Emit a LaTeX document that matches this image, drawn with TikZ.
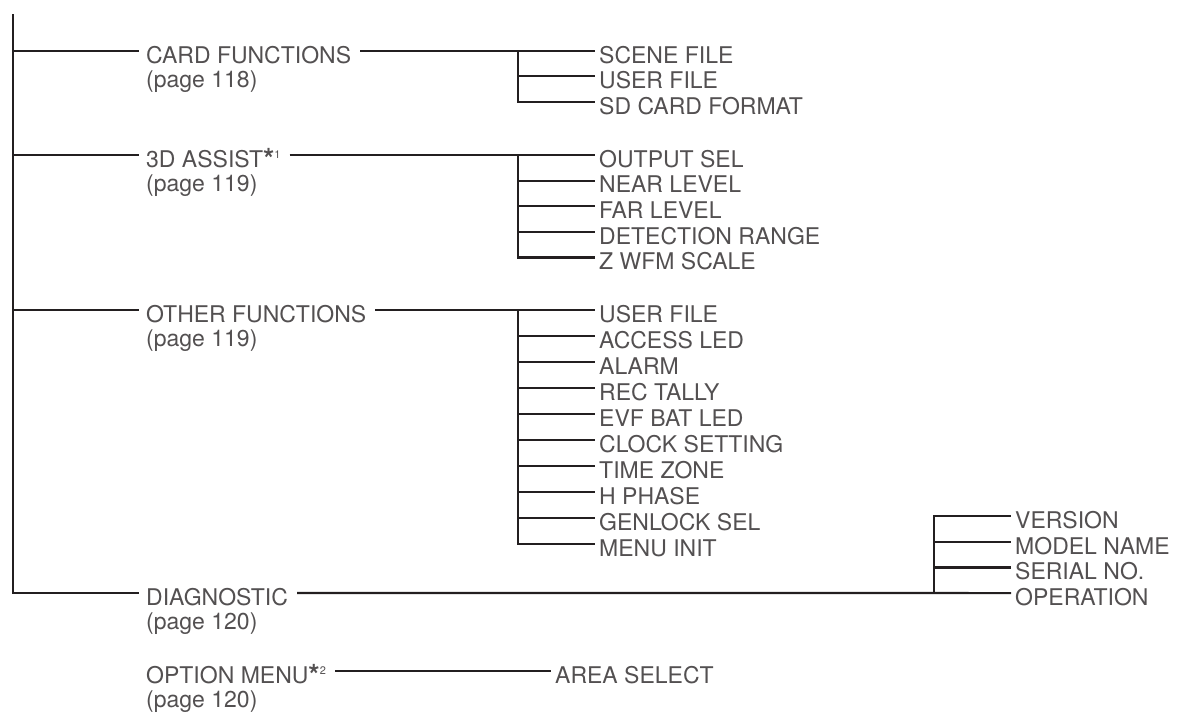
\documentclass[tikz,border=0pt]{standalone}
\usepackage{fontspec}
\setmainfont{TeX Gyre Heros}
\usetikzlibrary{positioning}
\definecolor{ink}{HTML}{231F20}
\tikzset{
  txt/.style={anchor=west, inner xsep=4pt, inner ysep=0pt, text height=24.6pt, text depth=0pt,
    font=\fontsize{23}{24}\selectfont, text=ink!78},
  ln/.style={draw=ink, line width=2.2pt},
  outln/.style={ln, shorten <=5pt},
}
\newcommand{\fnote}[1]{\raisebox{-2.5pt}{\fontsize{29}{29}\bfseries *}\raisebox{8.5pt}{\fontsize{11}{12}\selectfont #1}}

\begin{document}
\begin{tikzpicture}[x=1pt, y=-1pt]
\useasboundingbox (0,0) rectangle (1184,720);
\coordinate (R) at (13.3,14);
% first level
\node[txt] (C) at (142,50.7) {CARD FUNCTIONS};
\node[txt] (A) at (142,155) {3D ASSIST\fnote{1}};
\node[txt] (O) at (142,310) {OTHER FUNCTIONS};
\node[txt] (D) at (142,593) {DIAGNOSTIC};
\node[txt] (M) at (142,670.7) {OPTION MENU\fnote{2}};
\foreach \n/\p in {C/118,A/119,O/119,D/120,M/120}
  \node[txt, anchor=base west] (\n p) at ([yshift=-24pt]\n.base west) {(page \p)};
\draw[ln, shorten >=3pt] (R) |- (D.west);
\foreach \n in {C,A,O}
  \draw[ln, shorten >=3pt] (R |- \n.west) -- (\n.west);

% second level
\foreach \t [count=\i from 0] in {SCENE FILE, USER FILE, SD CARD FORMAT}
  \node[txt] (C\i) at (595,{50.7+25.5*\i}) {\t};
\foreach \t [count=\i from 0] in {OUTPUT SEL, NEAR LEVEL, FAR LEVEL, DETECTION RANGE, Z WFM SCALE}
  \node[txt] (A\i) at (595,{155+25.6*\i}) {\t};
\foreach \t [count=\i from 0] in {USER FILE, ACCESS LED, ALARM, REC TALLY, EVF BAT LED,
    CLOCK SETTING, TIME ZONE, H PHASE, GENLOCK SEL, MENU INIT}
  \node[txt] (O\i) at (595,{310+26*\i}) {\t};
\foreach \t [count=\i from 0] in {VERSION, MODEL NAME, SERIAL NO., OPERATION}
  \node[txt] (D\i) at (1011,{516+25.7*\i}) {\t};
\node[txt] (M0) at (551,670.7) {AREA SELECT};

\coordinate (Cb) at (518,50.7);
\coordinate (Ab) at (518,155);
\coordinate (Ob) at (518,310);
\coordinate (Db) at (934,593);

\draw[outln] (C.east) -- (C0.west);
\draw[ln] (Cb) |- (C2.west);
\draw[ln] (Cb |- C1.west) -- (C1.west);

\draw[outln] (A.east) -- (A0.west);
\draw[ln] (Ab) |- (A4.west);
\foreach \i in {1,2,3}
  \draw[ln] (Ab |- A\i.west) -- (A\i.west);

\draw[outln] (O.east) -- (O0.west);
\draw[ln] (Ob) |- (O9.west);
\foreach \i in {1,...,8}
  \draw[ln] (Ob |- O\i.west) -- (O\i.west);

\draw[outln] (D.east) -- (D3.west);
\draw[ln] (Db) |- (D0.west);
\foreach \i in {1,2}
  \draw[ln] (Db |- D\i.west) -- (D\i.west);

\draw[outln] (M.east) -- (M0.west);
\end{tikzpicture}
\end{document}
